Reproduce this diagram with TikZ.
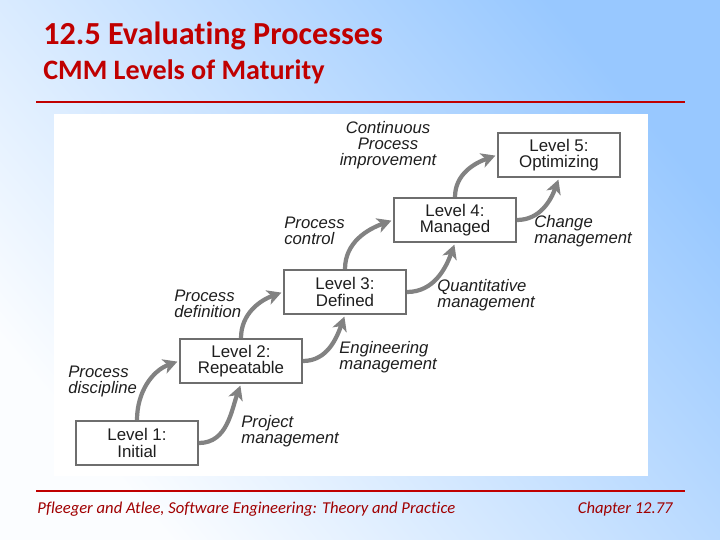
\documentclass[tikz,border=0pt]{standalone}
\usepackage{fontspec}
\setmainfont{Liberation Sans}
\newfontfamily\slidefont[Ligatures=NoCommon]{Carlito}
\usepackage{tikz}
\usetikzlibrary{arrows.meta, positioning, calc}
\usepackage{xcolor}

\definecolor{slidered}{HTML}{C00000}
\definecolor{footred}{HTML}{A00000}
\definecolor{boxgray}{HTML}{6E6E6E}
\definecolor{flowgray}{HTML}{828282}
\definecolor{skyblue}{HTML}{98C8FF}
\definecolor{labelink}{HTML}{1E1E1E}

\tikzset{
  lvl/.style={draw=boxgray, line width=1.1pt, fill=white, minimum width=2.44cm,
    minimum height=0.88cm, align=center, inner sep=0pt,
    font=\fontsize{9.6}{9.2}\selectfont, text=labelink},
  lbl/.style={align=left, inner sep=0pt, anchor=north west,
    font=\fontsize{9.5}{9.1}\selectfont\itshape, text=labelink},
  flow/.style={draw=flowgray, line width=2.4pt,
    -{Stealth[length=8pt, width=8.5pt, inset=2.2pt]}, shorten >=1pt}
}

\begin{document}
\begin{tikzpicture}[x=0.02cm, y=-0.02cm]
  \useasboundingbox (0,0) rectangle (720,540);
  % slide background
  \shade[shading=axis, top color=skyblue, bottom color=white!96!skyblue, shading angle=-50]
    (0,0) rectangle (720,540);
  \node[anchor=base west, inner sep=0pt, text=slidered, font=\slidefont\bfseries\fontsize{18.3}{20}\selectfont]
    (title) at (43,45) {12.5 Evaluating Processes};
  \node[anchor=base west, inner sep=0pt, text=slidered, font=\slidefont\bfseries\fontsize{16}{18}\selectfont]
    (subtitle) at (43,80) {CMM Levels of Maturity};
  \draw[slidered, line width=1.2pt] (36,102) -- (685,102);
  \fill[white] (54,114) rectangle (648,476);

  % levels
  \node[lvl] (l1) at (137,443) {Level 1:\\Initial};
  \node[lvl] (l2) at (241,361) {Level 2:\\Repeatable};
  \node[lvl] (l3) at (345,292) {Level 3:\\Defined};
  \node[lvl] (l4) at (455,220) {Level 4:\\Managed};
  \node[lvl] (l5) at (559,155) {Level 5:\\Optimizing};

  % arrows
  \draw[flow] (l1.north) to[out=90, in=200] (l2.west);
  \draw[flow] (l2.north) to[out=90, in=200] (l3.west);
  \draw[flow] (l3.north) to[out=90, in=200] (l4.west);
  \draw[flow] (l4.north) to[out=90, in=200] (l5.west);
  \draw[flow] (l1.east) to[out=0, in=250] (l2.south);
  \draw[flow] (l2.east) to[out=0, in=250] (l3.south);
  \draw[flow] (l3.east) to[out=0, in=250] (l4.south);
  \draw[flow] (l4.east) to[out=0, in=250] (l5.south);

  % labels
  \node[lbl] (pdisc) at (68,366) {Process\\discipline};
  \node[lbl] (pmgmt) at (241,415) {Project\\management};
  \node[lbl] (pdef) at (174,290) {Process\\definition};
  \node[lbl] (emgmt) at (339,341) {Engineering\\management};
  \node[lbl] (pctrl) at (284,217) {Process\\control};
  \node[lbl] (qmgmt) at (437,279) {Quantitative\\management};
  \node[lbl, align=center, anchor=north] (cpi) at (388,121) {Continuous\\Process\\improvement};
  \node[lbl] (cmgmt) at (534,215) {Change\\management};

  % footer
  \draw[slidered, line width=0.6pt] (36,491) -- (685,491);
  \node[anchor=base west, inner sep=0pt, text=footred, font=\slidefont\itshape\fontsize{9.45}{10}\selectfont]
    (cite) at (37,513) {Pfleeger and Atlee, Software Engineering: Theory and Practice};
  \node[anchor=base east, inner sep=0pt, text=footred, font=\slidefont\itshape\fontsize{9.45}{10}\selectfont]
    (chap) at (673,513) {Chapter 12.77};
\end{tikzpicture}
\end{document}
